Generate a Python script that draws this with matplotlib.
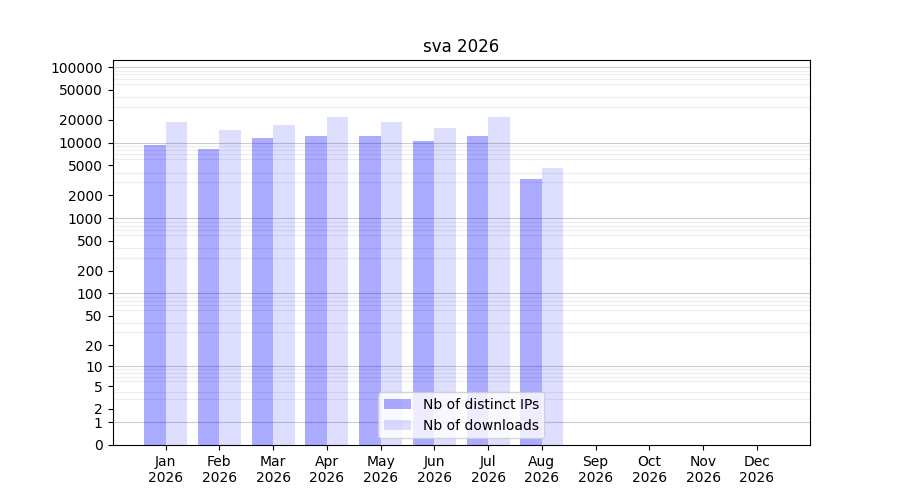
import numpy as np
import matplotlib.pyplot as plt

months = ['Jan', 'Feb', 'Mar', 'Apr', 'May', 'Jun', 'Jul', 'Aug', 'Sep', 'Oct', 'Nov', 'Dec']
year = 2026
ips = [9300, 8200, 11500, 12200, 12200, 10500, 12200, 3300, 0, 0, 0, 0]
downloads = [18700, 14700, 17100, 21800, 18700, 15600, 21800, 4600, 0, 0, 0, 0]
ytick_values = [0, 1, 2, 5, 10, 20, 50, 100, 200, 500, 1000, 2000, 5000,
                10000, 20000, 50000, 100000]

fig, ax = plt.subplots(figsize=(9, 5), dpi=100)

# log(1+x) scale so that zero can be shown
ax.set_yscale('function', functions=(lambda v: np.log10(1 + np.clip(v, 0, None)),
                                     lambda v: 10 ** v - 1))
ax.set_axisbelow(True)

x = np.arange(len(months))
ax.bar(x, ips, width=-0.4, align='edge', color='blue', alpha=0.33, label='Nb of distinct IPs')
ax.bar(x, downloads, width=0.4, align='edge', color='blue', alpha=0.13, label='Nb of downloads')

ax.set_ylim(0, 124000)
ax.set_yticks(ytick_values)
ax.set_yticklabels([str(v) for v in ytick_values])
minor = [m * 10 ** e for e in range(0, 6) for m in range(2, 10) if m * 10 ** e < 124000]
ax.set_yticks(minor, minor=True)
ax.tick_params(axis='y', which='minor', length=0)
ax.grid(False)
ax.grid(True, which='minor', axis='y', color='lightgray', alpha=0.4, linewidth=0.8)
for e in range(0, 6):
    ax.axhline(10 ** e, color='gray', alpha=0.4, linewidth=0.8, zorder=0.5)

ax.set_xticks(x)
ax.set_xticklabels([f'{m}\n{year}' for m in months])
ax.set_title(f'sva {year}')
ax.legend(loc='lower center')

fig.savefig('out.png')
